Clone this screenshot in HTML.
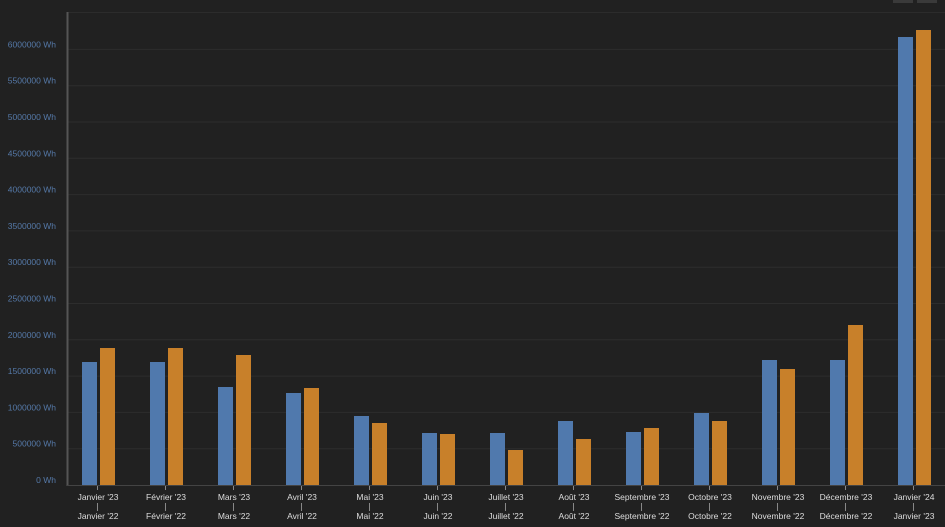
<!DOCTYPE html><html><head><style>body{margin:0;background:#212121;}svg{display:block}text{font-family:"Liberation Sans",sans-serif}</style></head><body>
<svg width="945" height="527" xmlns="http://www.w3.org/2000/svg">
<rect width="945" height="527" fill="#212121"/>
<rect x="893" y="0" width="20" height="3" fill="#3a3a3a"/><rect x="917" y="0" width="20" height="3" fill="#3a3a3a"/>
<line x1="67" y1="12.5" x2="945" y2="12.5" stroke="#2c2c2c"/>
<g id="grid" stroke="#2d2d2d" stroke-width="1"></g>
<g font-size="8.5" fill="#5579a8" text-anchor="end" id="yl"></g>
<line x1="67.5" y1="12" x2="67.5" y2="486" stroke="#555" stroke-width="2"/>
<line x1="67" y1="485.5" x2="945" y2="485.5" stroke="#444"/>
<g id="bars"></g>
<g id="xl" font-size="8.5" fill="#ddd" text-anchor="middle"></g>
<script>
var ns="http://www.w3.org/2000/svg";
function el(p,t,a,tx){var e=document.createElementNS(ns,t);for(var k in a)e.setAttribute(k,a[k]);if(tx)e.textContent=tx;document.getElementById(p).appendChild(e);}
for(var i=1;i<=12;i++){var y=485-i*36.3;el("grid","line",{x1:67,x2:945,y1:y.toFixed(1),y2:y.toFixed(1)});}
for(var i=0;i<=12;i++){var y=485-i*36.3;el("yl","text",{x:56,y:(y-2).toFixed(1)},(i*500000)+" Wh");}
var m=["Janvier","Février","Mars","Avril","Mai","Juin","Juillet","Août","Septembre","Octobre","Novembre","Décembre","Janvier"];
var b=[362,362,387,393,416,433,433,421,432,413,360,360,37];
var o=[348,348,355,388,423,434,450,439,428,421,369,325,30];
for(var i=0;i<13;i++){var c=98+68*i;
el("bars","rect",{x:c-16,y:b[i],width:15,height:485-b[i],fill:"#5079ad"});
el("bars","rect",{x:c+2,y:o[i],width:15,height:485-o[i],fill:"#c8802a"});
var y1=i==12?"'24":"'23",y2=i==12?"'23":"'22";
el("xl","text",{x:c,y:500},m[i]+" "+y1);
el("xl","text",{x:c,y:519},m[i]+" "+y2);
el("xl","line",{x1:c-0.5,x2:c-0.5,y1:503,y2:511,stroke:"#888"});
el("xl","line",{x1:c-0.5,x2:c-0.5,y1:486,y2:490,stroke:"#888"});
}
</script>
</svg></body></html>
